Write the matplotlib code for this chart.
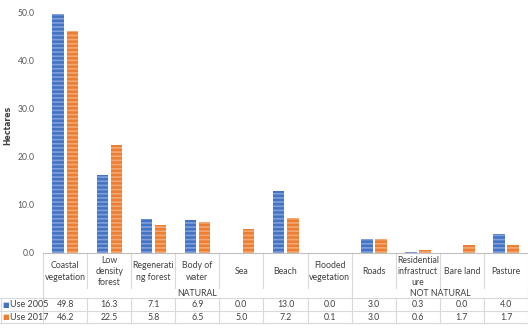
import numpy as np
import matplotlib.pyplot as plt

plt.rcParams['font.family'] = ['Lato', 'DejaVu Sans']
plt.rcParams['hatch.linewidth'] = 1.2

# Dados do gráfico
categories = ["Coastal\nvegetation", "Low\ndensity\nforest", "Regenerati\nng forest",
              "Body of\nwater", "Sea", "Beach", "Flooded\nvegetation", "Roads",
              "Residential\ninfrastruct\nure", "Bare land", "Pasture"]
use2005 = [49.8, 16.3, 7.1, 6.9, 0.0, 13.0, 0.0, 3.0, 0.3, 0.0, 4.0]
use2017 = [46.2, 22.5, 5.8, 6.5, 5.0, 7.2, 0.1, 3.0, 0.6, 1.7, 1.7]
groups = ["NATURAL", "NOT NATURAL"]
group_sizes = [7, 4]
series_names = ["Use 2005", "Use 2017"]
yticks = [0, 10, 20, 30, 40, 50]

blue = '#4472C4'
orange = '#ED7D31'
txt = '#404040'
grid_c = '#D9D9D9'

W, H = 528, 328
fig = plt.figure(figsize=(W / 100, H / 100), dpi=100)
ax_left, ax_right, ax_top, ax_bot = 43, 528, 13, 253
ax = fig.add_axes([ax_left / W, 1 - ax_bot / H, (ax_right - ax_left) / W, (ax_bot - ax_top) / H])

n = len(categories)
x = np.arange(n)
w = 0.26
ax.bar(x - 0.155, use2005, w, color=blue, edgecolor='#7FA0DA', hatch='----', lw=0)
ax.bar(x + 0.165, use2017, w, color=orange, edgecolor='#F5A874', hatch='----', lw=0)

ax.set_xlim(-0.5, n - 0.5)
ax.set_ylim(0, 50)
ax.set_yticks(yticks)
ax.set_yticklabels(["%.1f" % v for v in yticks])
ax.tick_params(axis='y', length=0, pad=6, labelsize=6.2, labelcolor='#595959')
ax.set_xticks([])
for s in ['left', 'right', 'top']:
  ax.spines[s].set_visible(False)
ax.spines['bottom'].set_color('#BFBFBF')
ax.spines['bottom'].set_linewidth(0.8)

fig.text(8 / W, 1 - 125 / H, "Hectares", rotation=90, ha='center', va='center',
         fontsize=5.6, fontweight='bold', color=txt, family='DejaVu Sans')

# Tabela de dados abaixo do gráfico
tr = ax.get_xaxis_transform()
px_unit = (ax_right - ax_left) / n
def fy(py):
  return (ax_bot - py) / (ax_bot - ax_top)
def fx(px):
  return -0.5 + (px - ax_left) / px_unit

def hline(py, x0, x1):
  ax.plot([x0, x1], [fy(py), fy(py)], color=grid_c, lw=0.8, transform=tr, clip_on=False)
def vline(xd, py0, py1):
  ax.plot([xd, xd], [fy(py0), fy(py1)], color=grid_c, lw=0.8, transform=tr, clip_on=False)

row_cat, row_grp, row1, row2, row_end = 253, 288, 298, 311, 323
edges = np.arange(n + 1) - 0.5
for e in edges:
  vline(e, row_cat, row_grp)
  vline(e, row1, row_end)
bounds = np.cumsum([0] + group_sizes) - 0.5
for b in bounds:
  vline(b, row_grp, row1)
for py in [row1, row2, row_end]:
  hline(py, fx(0), n - 0.5)
vline(fx(0.5), row1, row_end)

for i, c in enumerate(categories):
  ax.text(i, fy((row_cat + row_grp) / 2 + 1), c, ha='center', va='center', fontsize=6.3,
          color=txt, transform=tr, linespacing=1.35, clip_on=False)

for g, b0, b1 in zip(groups, bounds[:-1], bounds[1:]):
  ax.text((b0 + b1) / 2, fy(293.5), g, ha='center', va='center', fontsize=6.3,
          color=txt, transform=tr, clip_on=False)

for vals, name, col, py in [(use2005, series_names[0], blue, (row1 + row2) / 2),
                            (use2017, series_names[1], orange, (row2 + row_end) / 2)]:
  ax.text(fx(2), fy(py), u"\u25A0", ha='left', va='center', fontsize=5, color=col,
          transform=tr, family='DejaVu Sans', clip_on=False)
  ax.text(fx(10), fy(py), name, ha='left', va='center', fontsize=6.5, color=txt,
          transform=tr, clip_on=False)
  for i, v in enumerate(vals):
    ax.text(i, fy(py), "%.1f" % v, ha='center', va='center', fontsize=6.3, color=txt,
            transform=tr, clip_on=False)

plt.savefig("out.png", dpi=100)
